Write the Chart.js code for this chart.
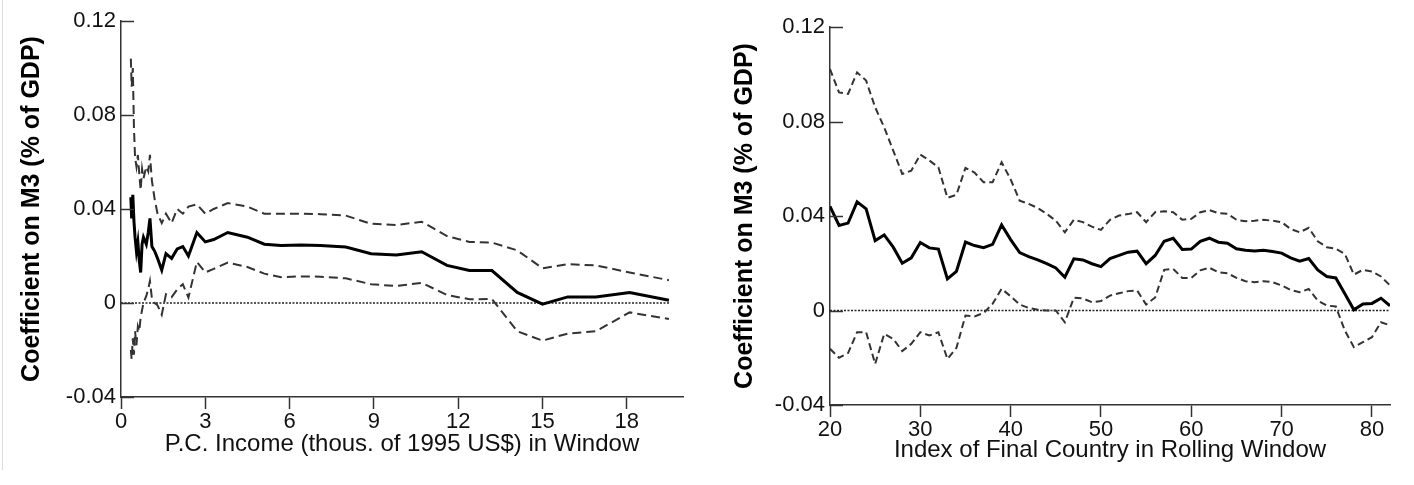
<!DOCTYPE html>
<html>
<head>
<meta charset="utf-8">
<script src="https://cdn.jsdelivr.net/npm/chart.js@4.4.0/dist/chart.umd.min.js"></script>
<style>
  body { margin: 0; background: #fff; width: 1414px; height: 485px; position: relative; overflow: hidden; }
  canvas { position: absolute; top: 0; }
  #leftChart { left: 0; }
  #rightChart { left: 707px; }
  .edge { position: absolute; left: 2px; top: 0; height: 470px; border-left: 1px solid #dcdcdc; }
</style>
</head>
<body>
<div class="edge"></div>
<canvas id="leftChart" width="707" height="485"></canvas>
<canvas id="rightChart" width="707" height="485"></canvas>
<script>
// left panel: per capita income windows (thous. of 1995 US$)
const leftIncome = [0.35, 0.38, 0.42, 0.46, 0.5, 0.55, 0.6, 0.65, 0.7, 0.75, 0.8, 0.9, 0.97, 1.03, 1.1, 1.2, 1.3, 1.45, 1.6, 1.8,
  2.0, 2.2, 2.4, 2.7, 3.0, 3.3, 3.8, 4.5, 5.1, 5.7, 6.4, 7.1, 8.0, 8.9, 9.8, 10.7, 11.6, 12.4, 13.2, 14.1,
  15.0, 15.9, 16.9, 18.1, 19.5];
const leftCoef = [0.045, 0.036, 0.046, 0.035, 0.028, 0.022, 0.026, 0.018, 0.013, 0.025, 0.028, 0.025, 0.030, 0.036, 0.024, 0.022, 0.019, 0.014, 0.021, 0.019,
  0.023, 0.024, 0.020, 0.030, 0.026, 0.027, 0.030, 0.028, 0.025, 0.0245, 0.0247, 0.0245, 0.0238, 0.021, 0.0204, 0.0218, 0.016, 0.0138, 0.0138, 0.0045,
  -0.0005, 0.0026, 0.0026, 0.0045, 0.0012];
const leftUpper = [0.104, 0.092, 0.100, 0.075, 0.062, 0.058, 0.063, 0.055, 0.048, 0.057, 0.053, 0.058, 0.056, 0.063, 0.052, 0.044, 0.038, 0.034, 0.038, 0.034,
  0.040, 0.038, 0.041, 0.042, 0.038, 0.040, 0.0425, 0.041, 0.038, 0.038, 0.038, 0.0378, 0.0372, 0.0337, 0.0332, 0.0346, 0.0285, 0.026, 0.0257, 0.0224,
  0.0148, 0.0165, 0.016, 0.013, 0.0097];
const leftLower = [-0.020, -0.024, -0.015, -0.022, -0.012, -0.018, -0.010, -0.012, -0.006, -0.003, 0.0, 0.003, 0.006, 0.0094, 0.002, 0.0, -0.001, -0.005, 0.0037, 0.0025,
  0.0058, 0.008, 0.0023, 0.0175, 0.013, 0.0145, 0.0172, 0.0153, 0.0125, 0.011, 0.0113, 0.0112, 0.0105, 0.008, 0.0072, 0.0086, 0.0034, 0.0016, 0.0017, -0.012,
  -0.016, -0.013, -0.012, -0.004, -0.0068];

// right panel: index of final country in rolling window, 20..82
const rightIndex = [20, 21, 22, 23, 24, 25, 26, 27, 28, 29, 30, 31, 32, 33, 34, 35, 36, 37, 38, 39, 40, 41, 42, 43, 44, 45, 46, 47, 48, 49,
  50, 51, 52, 53, 54, 55, 56, 57, 58, 59, 60, 61, 62, 63, 64, 65, 66, 67, 68, 69, 70, 71, 72, 73, 74, 75, 76, 77, 78, 79, 80, 81, 82];
const rightCoef = [0.0441, 0.036, 0.037, 0.046, 0.043, 0.0296, 0.032, 0.0268, 0.020, 0.0223,
  0.0288, 0.0265, 0.026, 0.0134, 0.0166, 0.029, 0.0275, 0.0266, 0.028, 0.0362,
  0.030, 0.0245, 0.0228, 0.0214, 0.0198, 0.018, 0.0141, 0.0219, 0.0214, 0.0198,
  0.0186, 0.022, 0.0233, 0.0247, 0.0251, 0.0198, 0.0233, 0.0293, 0.0306, 0.0258,
  0.026, 0.0293, 0.0306, 0.0289, 0.0285, 0.0261, 0.0255, 0.0252, 0.0255, 0.025,
  0.0243, 0.0223, 0.0209, 0.022, 0.0172, 0.0144, 0.0138, 0.0071, 0.0003, 0.0028,
  0.003, 0.0052, 0.002];
const rightUpper = [0.1022, 0.0923, 0.0917, 0.1008, 0.0973, 0.086, 0.0775, 0.0677, 0.0578, 0.0592,
  0.066, 0.0635, 0.0606, 0.0477, 0.049, 0.0604, 0.0584, 0.0543, 0.0543, 0.0627,
  0.0555, 0.0465, 0.0451, 0.0434, 0.0409, 0.038, 0.0331, 0.0384, 0.0374, 0.0355,
  0.0341, 0.0384, 0.0402, 0.0408, 0.0416, 0.0374, 0.0416, 0.042, 0.0416, 0.0384,
  0.0388, 0.0416, 0.0425, 0.0412, 0.041, 0.0384, 0.0378, 0.038, 0.0384, 0.038,
  0.0374, 0.0345, 0.0331, 0.035, 0.0293, 0.0268, 0.0261, 0.024, 0.0152, 0.0172,
  0.0165, 0.0144, 0.0106];
const rightLower = [-0.0162, -0.020, -0.018, -0.0092, -0.0092, -0.0226, -0.0099, -0.012, -0.0172, -0.0141,
  -0.0092, -0.0106, -0.0092, -0.0205, -0.0158, -0.0021, -0.0025, -0.0011, 0.0028, 0.0092,
  0.006, 0.0025, 0.0011, 0.0003, 0.0, 0.0, -0.005, 0.0054, 0.0051, 0.0035,
  0.004, 0.0063, 0.0073, 0.0082, 0.0085, 0.0025, 0.0055, 0.0172, 0.0176, 0.0138,
  0.0138, 0.017, 0.0181, 0.0162, 0.0158, 0.0138, 0.0124, 0.012, 0.0124, 0.012,
  0.0106, 0.0087, 0.0077, 0.0091, 0.0042, 0.0021, 0.0017, -0.0085, -0.0155, -0.0134,
  -0.0113, -0.005, -0.0063];

const yTicks = [-0.04, 0, 0.04, 0.08, 0.12];
const leftXTicks = [0, 3, 6, 9, 12, 15, 18];
const rightXTicks = [20, 30, 40, 50, 60, 70, 80];

const yTitle = 'Coefficient on M3 (% of GDP)';
const leftXTitle = 'P.C. Income (thous. of 1995 US$) in Window';
const rightXTitle = 'Index of Final Country in Rolling Window';

const FONT = "'Liberation Sans', Arial, sans-serif";
const AXIS = '#333';

// y ticks point into the plot in the original
const inwardTicks = {
  id: 'inwardTicks',
  afterDraw(chart) {
    const y = chart.scales.y;
    const ctx = chart.ctx;
    const left = chart.chartArea.left;
    ctx.save();
    ctx.strokeStyle = AXIS;
    ctx.lineWidth = 1.5;
    y.ticks.forEach(t => {
      const py = Math.round(y.getPixelForValue(t.value)) + 0.5;
      ctx.beginPath();
      ctx.moveTo(left, py);
      ctx.lineTo(left + 13, py);
      ctx.stroke();
    });
    ctx.restore();
  }
};

function pts(xs, ys) {
  return xs.map((x, i) => ({ x: x, y: ys[i] }));
}

function makeChart(id, xs, coef, upper, lower, cfg) {
  const zero = [{ x: cfg.zeroFrom, y: 0 }, { x: xs[xs.length - 1], y: 0 }];
  return new Chart(document.getElementById(id), {
    type: 'line',
    data: {
      datasets: [
        { data: pts(xs, coef), borderColor: '#000', borderWidth: 3 },
        { data: pts(xs, upper), borderColor: '#333', borderWidth: 2, borderDash: cfg.dash },
        { data: pts(xs, lower), borderColor: '#333', borderWidth: 2, borderDash: cfg.dash },
        { data: zero, borderColor: '#222', borderWidth: 1.5, borderDash: [2, 1.5] }
      ]
    },
    options: {
      responsive: false,
      animation: false,
      elements: { point: { radius: 0 }, line: { tension: 0 } },
      layout: { padding: { top: cfg.top, right: cfg.right, bottom: 0, left: 0 } },
      plugins: { legend: { display: false }, tooltip: { enabled: false } },
      scales: {
        x: {
          type: 'linear',
          min: cfg.xMin,
          max: cfg.xMax,
          afterBuildTicks: s => { s.ticks = cfg.xTicks.map(v => ({ value: v })); },
          afterFit: s => { s.height = cfg.xHeight; },
          border: { display: true, color: AXIS, width: 1.5 },
          grid: { drawOnChartArea: false, drawTicks: true, tickLength: 12, tickWidth: 1.5, tickColor: AXIS },
          ticks: { color: '#111', padding: 0, maxRotation: 0, font: { family: FONT, size: 22 } },
          title: { display: true, text: cfg.xTitle, color: '#111', padding: { top: 0, bottom: cfg.xTitlePad }, font: { family: FONT, size: 24 } }
        },
        y: {
          min: -0.04,
          max: 0.12,
          afterBuildTicks: s => { s.ticks = yTicks.map(v => ({ value: v })); },
          afterFit: s => { s.width = cfg.yWidth; },
          border: { display: true, color: AXIS, width: 1.5 },
          grid: { display: true, drawOnChartArea: false, drawTicks: false },
          ticks: {
            color: '#111', padding: 5, font: { family: FONT, size: 22 },
            callback: v => (v === 0 ? '0' : v.toFixed(2))
          },
          title: { display: true, text: yTitle, color: '#000', padding: { top: cfg.yTitlePad, bottom: 0 }, font: { family: FONT, size: 25, weight: 'bold' } }
        }
      }
    },
    plugins: [inwardTicks]
  });
}

makeChart('leftChart', leftIncome, leftCoef, leftUpper, leftLower, {
  zeroFrom: 0, xMin: 0, xMax: 20, xTicks: leftXTicks, xTitle: leftXTitle,
  top: 21, right: 24, xHeight: 88, yWidth: 121, xTitlePad: 26, yTitlePad: 17, dash: [9, 5]
});

makeChart('rightChart', rightIndex, rightCoef, rightUpper, rightLower, {
  zeroFrom: 20, xMin: 20, xMax: 82, xTicks: rightXTicks, xTitle: rightXTitle,
  top: 27, right: 24, xHeight: 80, yWidth: 123, xTitlePad: 20, yTitlePad: 23, dash: [7, 4]
});
</script>
</body>
</html>
